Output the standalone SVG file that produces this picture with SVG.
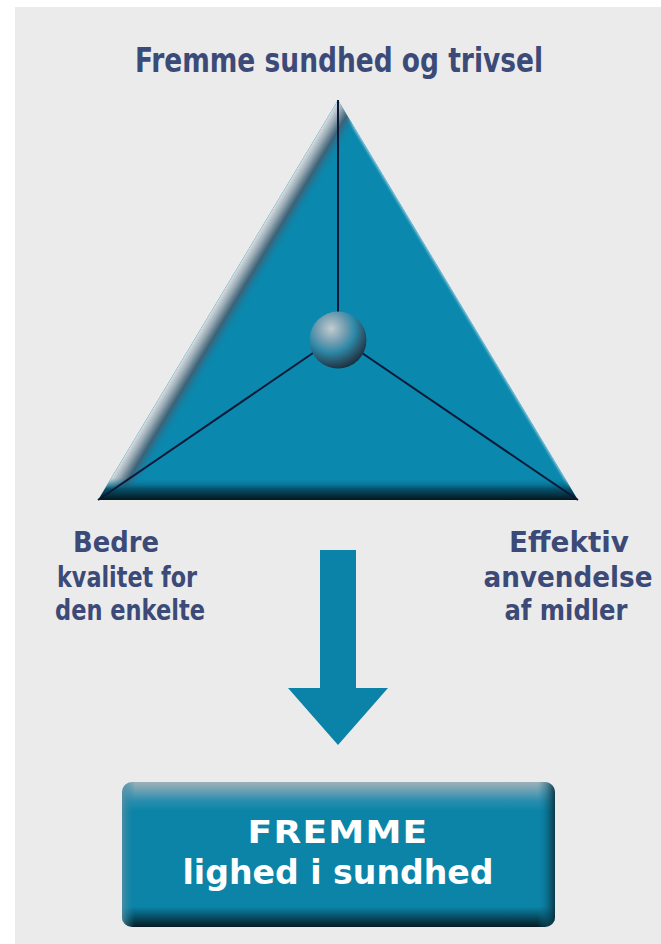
<svg xmlns="http://www.w3.org/2000/svg" width="661" height="944" viewBox="0 0 661 944">
  <defs>
    <style>
      .lbl { font-family: "Liberation Sans Narrow", "DejaVu Sans Condensed", "Liberation Sans", sans-serif; font-weight: bold; fill: #3c4a78; text-anchor: middle; }
      .box { font-family: "Liberation Sans Narrow", "DejaVu Sans Condensed", "Liberation Sans", sans-serif; font-weight: bold; fill: #ffffff; text-anchor: middle; }
      .spoke { stroke: #0b1838; stroke-width: 2; fill: none; }
    </style>
    <clipPath id="triClip">
      <polygon points="338,100 98,500 578,500"/>
    </clipPath>
    <linearGradient id="leftBevel" gradientUnits="userSpaceOnUse" x1="218" y1="300" x2="242" y2="314.4">
      <stop offset="0" stop-color="#d9dfe2" stop-opacity="1"/>
      <stop offset="0.25" stop-color="#9aabb5" stop-opacity="1"/>
      <stop offset="0.55" stop-color="#3f6074" stop-opacity="0.95"/>
      <stop offset="1" stop-color="#0b87ad" stop-opacity="0"/>
    </linearGradient>
    <linearGradient id="bottomBevel" gradientUnits="userSpaceOnUse" x1="0" y1="478" x2="0" y2="500">
      <stop offset="0" stop-color="#0b87ad" stop-opacity="0"/>
      <stop offset="0.5" stop-color="#06506a" stop-opacity="1"/>
      <stop offset="1" stop-color="#07161d" stop-opacity="1"/>
    </linearGradient>
    <linearGradient id="rightBevel" gradientUnits="userSpaceOnUse" x1="458" y1="300" x2="454.57" y2="302.06">
      <stop offset="0" stop-color="#8fcde0" stop-opacity="1"/>
      <stop offset="1" stop-color="#0b87ad" stop-opacity="0"/>
    </linearGradient>
    <radialGradient id="sphere" cx="0.38" cy="0.3" r="0.75">
      <stop offset="0" stop-color="#c3ccd0"/>
      <stop offset="0.35" stop-color="#6f9bb0"/>
      <stop offset="0.55" stop-color="#2f8aa8"/>
      <stop offset="0.85" stop-color="#25465a"/>
      <stop offset="1" stop-color="#152a36"/>
    </radialGradient>
    <linearGradient id="boxTop" x1="0" y1="0" x2="0" y2="1">
      <stop offset="0" stop-color="#9fb0b8"/>
      <stop offset="0.13" stop-color="#2a8eae"/>
      <stop offset="0.2" stop-color="#0b84a8"/>
      <stop offset="0.86" stop-color="#0b84a8"/>
      <stop offset="0.93" stop-color="#065066"/>
      <stop offset="1" stop-color="#061a22"/>
    </linearGradient>
    <linearGradient id="boxSide" x1="0" y1="0" x2="1" y2="0">
      <stop offset="0" stop-color="#5d8fa3" stop-opacity="0.8"/>
      <stop offset="0.03" stop-color="#0b84a8" stop-opacity="0"/>
      <stop offset="0.96" stop-color="#0b84a8" stop-opacity="0"/>
      <stop offset="1" stop-color="#0a2e3c" stop-opacity="0.9"/>
    </linearGradient>
  </defs>

  <rect x="0" y="0" width="661" height="944" fill="#ffffff"/>
  <rect x="15" y="7" width="646" height="937" fill="#ebebeb"/>

  <g id="triangle">
    <polygon points="338,100 98,500 578,500" fill="#0a88ae"/>
    <g clip-path="url(#triClip)">
      <polygon points="338,100 98,500 578,500" fill="url(#rightBevel)"/>
      <polygon points="338,100 98,500 578,500" fill="url(#leftBevel)"/>
      <polygon points="338,100 98,500 578,500" fill="url(#bottomBevel)"/>
    </g>
  </g>

  <g id="connectors">
    <line class="spoke" x1="338" y1="100" x2="338" y2="313"/>
    <line class="spoke" x1="313" y1="353" x2="98" y2="500"/>
    <line class="spoke" x1="362" y1="353" x2="578" y2="500"/>
    <polygon id="arrow" points="320,550 356,550 356,688 388,688 338,745 288,688 320,688" fill="#0b83a8"/>
  </g>

  <g id="center-sphere">
    <circle cx="338" cy="340" r="28.5" fill="url(#sphere)"/>
  </g>

  <g id="label-top">
    <text class="lbl" x="339" y="72" font-size="33" textLength="408" lengthAdjust="spacingAndGlyphs">Fremme sundhed og trivsel</text>
  </g>

  <g id="label-left">
    <text class="lbl" x="116" y="552" font-size="29" textLength="86" lengthAdjust="spacingAndGlyphs">Bedre</text>
    <text class="lbl" x="127" y="587" font-size="29" textLength="140" lengthAdjust="spacingAndGlyphs">kvalitet for</text>
    <text class="lbl" x="130" y="620" font-size="29" textLength="150" lengthAdjust="spacingAndGlyphs">den enkelte</text>
  </g>

  <g id="label-right">
    <text class="lbl" x="569" y="552" font-size="29" textLength="120" lengthAdjust="spacingAndGlyphs">Effektiv</text>
    <text class="lbl" x="568" y="587" font-size="29" textLength="169" lengthAdjust="spacingAndGlyphs">anvendelse</text>
    <text class="lbl" x="566" y="620" font-size="29" textLength="123" lengthAdjust="spacingAndGlyphs">af midler</text>
  </g>

  <g id="result-box">
    <rect x="122" y="782" width="433" height="145" rx="10" ry="10" fill="url(#boxTop)"/>
    <rect x="122" y="782" width="433" height="145" rx="10" ry="10" fill="url(#boxSide)"/>
    <text class="box" x="338" y="843" font-size="32" letter-spacing="1" textLength="181" lengthAdjust="spacingAndGlyphs">FREMME</text>
    <text class="box" x="338" y="884" font-size="33" textLength="311" lengthAdjust="spacingAndGlyphs">lighed i sundhed</text>
  </g>
</svg>
